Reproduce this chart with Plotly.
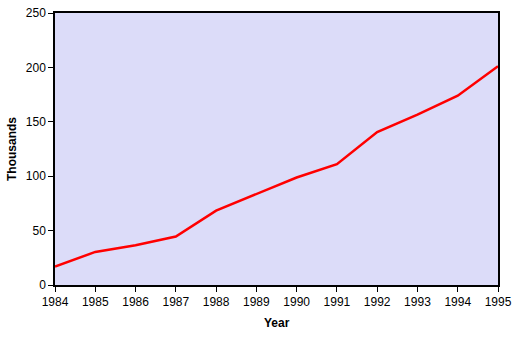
import plotly.graph_objects as go

years = [1984, 1985, 1986, 1987, 1988, 1989, 1990, 1991, 1992, 1993, 1994, 1995]
values = [16.9, 30.4, 36.5, 44.5, 68.4, 83.5, 98.8, 111, 140.5, 156.5, 174, 201]
y_ticks = [0, 50, 100, 150, 200, 250]

W, H = 529, 338
L, R, T, B = 55, 31, 13, 53
pw, ph = W - L - R, H - T - B

fig = go.Figure()
fig.add_trace(go.Scatter(x=years, y=values, mode="lines",
                         line=dict(color="#FF0000", width=2.5)))

font = dict(family="Liberation Sans, Arial, sans-serif", size=12, color="black")
fig.update_layout(
    width=W, height=H,
    margin=dict(l=L, r=R, t=T, b=B),
    paper_bgcolor="white",
    plot_bgcolor="#DCDCF9",
    showlegend=False,
    font=font,
    xaxis=dict(range=[1984, 1995], tickmode="array", tickvals=years,
               ticks="outside", ticklen=5, tickcolor="black",
               showline=True, linecolor="black", linewidth=1.5, mirror=True,
               showgrid=False, zeroline=False, automargin=False),
    yaxis=dict(range=[0, 250], tickmode="array", tickvals=y_ticks,
               ticks="outside", ticklen=5, tickcolor="black",
               showline=True, linecolor="black", linewidth=1.5, mirror=True,
               showgrid=False, zeroline=False, automargin=False),
    annotations=[
        dict(text="<b>Year</b>", xref="paper", yref="paper",
             x=0.5, y=(285 - 323) / ph, xanchor="center", yanchor="middle",
             showarrow=False, font=font),
        dict(text="<b>Thousands</b>", xref="paper", yref="paper",
             x=(12 - L) / pw, y=0.5, xanchor="center", yanchor="middle",
             textangle=-90, showarrow=False, font=font),
    ],
)
fig.write_html("out.html")
